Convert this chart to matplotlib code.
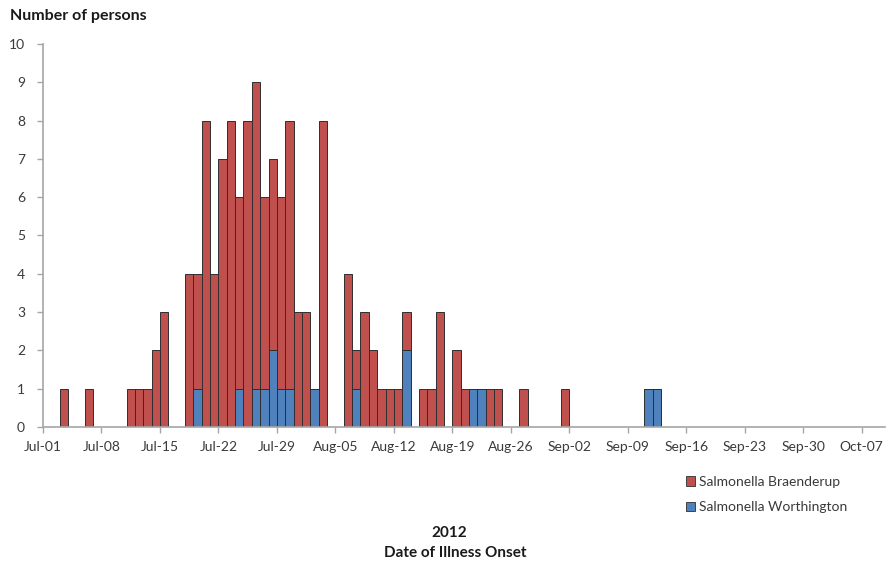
import matplotlib
matplotlib.use("Agg")
import matplotlib.pyplot as plt
import matplotlib.dates as mdates
from matplotlib.patches import Patch
import pandas as pd

# onset dates (2012) with counts per serotype
dates = ["07-03", "07-06", "07-11", "07-12", "07-13", "07-14", "07-15",
         "07-18", "07-19", "07-20", "07-21", "07-22", "07-23", "07-24",
         "07-25", "07-26", "07-27", "07-28", "07-29", "07-30", "07-31",
         "08-01", "08-02", "08-03", "08-06", "08-07", "08-08", "08-09",
         "08-10", "08-11", "08-12", "08-13", "08-15", "08-16", "08-17",
         "08-19", "08-20", "08-21", "08-22", "08-23", "08-24", "08-27",
         "09-01", "09-11", "09-12"]
worthington = [0, 0, 0, 0, 0, 0, 0,
               0, 1, 0, 0, 0, 0, 1,
               0, 1, 1, 2, 1, 1, 0,
               0, 1, 0, 0, 1, 0, 0,
               0, 0, 0, 2, 0, 0, 0,
               0, 0, 1, 1, 0, 0, 0,
               0, 1, 1]
braenderup = [1, 1, 1, 1, 1, 2, 3,
              4, 3, 8, 4, 7, 8, 5,
              8, 8, 5, 5, 5, 7, 3,
              3, 0, 8, 4, 1, 3, 2,
              1, 1, 1, 1, 1, 1, 3,
              2, 1, 0, 0, 1, 1, 1,
              1, 0, 0]

red = "#C0504D"
blue = "#4F81BD"
edge = "#2e2e2e"
txt = "#3a3a3a"
axis_col = "#a6a6a6"

plt.rcParams["font.family"] = ["Lato", "DejaVu Sans"]

x = pd.to_datetime(["2012-" + d for d in dates]) + pd.Timedelta(hours=12)

fig = plt.figure(figsize=(8.91, 5.65), dpi=100)
ax = fig.add_axes([43 / 891, 1 - 427 / 565, 842 / 891, 383 / 565])

ax.bar(x, worthington, width=1.0, color=blue, edgecolor=edge, linewidth=0.7)
ax.bar(x, braenderup, width=1.0, bottom=worthington, color=red,
       edgecolor=edge, linewidth=0.7)

start = pd.Timestamp("2012-07-01")
ax.set_xlim(start, pd.Timestamp("2012-10-09") + pd.Timedelta(hours=19))
ax.set_ylim(0, 10)
ax.set_yticks(range(0, 11))
ax.set_xticks(pd.date_range(start, "2012-10-07", freq="7D"))
ax.xaxis.set_major_formatter(mdates.DateFormatter("%b-%d"))

for s in ["top", "right"]:
    ax.spines[s].set_visible(False)
for s in ["left", "bottom"]:
    ax.spines[s].set_color(axis_col)
    ax.spines[s].set_linewidth(1.2)
ax.tick_params(axis="both", colors=axis_col, labelcolor=txt, labelsize=10,
               length=4, width=1)
ax.tick_params(axis="x", pad=6)
ax.tick_params(axis="y", pad=9)

fig.text(10 / 891, 1 - 16 / 565, "Number of persons", fontsize=11.5,
         fontweight="bold", color="#1a1a1a", va="center", ha="left")
fig.text(449 / 891, 1 - 533 / 565, "2012", fontsize=11, fontweight="bold",
         color="#1a1a1a", ha="center", va="center")
fig.text(455 / 891, 1 - 553 / 565, "Date of Illness Onset", fontsize=11,
         fontweight="bold", color="#1a1a1a", ha="center", va="center")

handles = [Patch(facecolor=red, edgecolor=edge, linewidth=0.6),
           Patch(facecolor=blue, edgecolor=edge, linewidth=0.6)]
fig.legend(handles, ["Salmonella Braenderup", "Salmonella Worthington"],
           loc="upper left", bbox_to_anchor=(673 / 891, 1 - 463 / 565),
           frameon=False, fontsize=10, handlelength=0.7, handleheight=0.7,
           handletextpad=0.3, labelspacing=1.0, labelcolor=txt)

fig.savefig("out.png", dpi=100)
